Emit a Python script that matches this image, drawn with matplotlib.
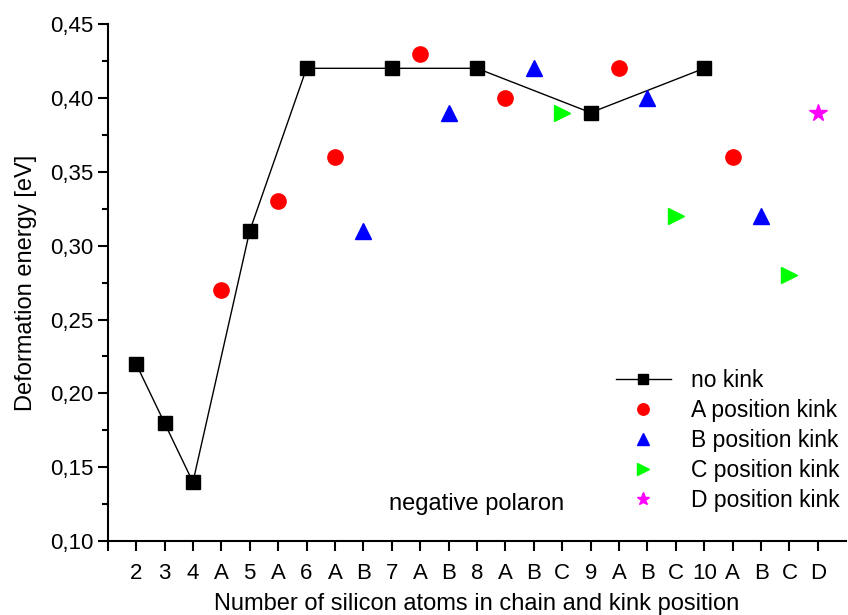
import matplotlib
matplotlib.use("Agg")
import matplotlib.pyplot as plt
from matplotlib.ticker import FuncFormatter, MultipleLocator

plt.rcParams['font.family'] = ['Liberation Sans', 'DejaVu Sans']

# categories along the x axis (position 1..25)
labels = ['2', '3', '4', 'A', '5', 'A', '6', 'A', 'B', '7', 'A', 'B', '8',
          'A', 'B', 'C', '9', 'A', 'B', 'C', '10', 'A', 'B', 'C', 'D']

# no kink
x_none = [1, 2, 3, 5, 7, 10, 13, 17, 21]
y_none = [0.22, 0.18, 0.14, 0.31, 0.42, 0.42, 0.42, 0.39, 0.42]
# A position kink
x_a = [4, 6, 8, 11, 14, 18, 22]
y_a = [0.27, 0.33, 0.36, 0.43, 0.40, 0.42, 0.36]
# B position kink
x_b = [9, 12, 15, 19, 23]
y_b = [0.31, 0.39, 0.42, 0.40, 0.32]
# C position kink
x_c = [16, 20, 24]
y_c = [0.39, 0.32, 0.28]
# D position kink
x_d = [25]
y_d = [0.39]

fig = plt.figure(figsize=(8.48, 6.15), dpi=100)
ax = fig.add_axes([0.127, 0.12, 0.871, 0.841])

ax.plot(x_none, y_none, color='black', lw=1, marker='s', ms=10, label='no kink')
ax.plot(x_a, y_a, ls='none', marker='o', color='#ff0000', ms=11, label='A position kink')
ax.plot(x_b, y_b, ls='none', marker='^', color='#0000ff', ms=11, label='B position kink')
ax.plot(x_c, y_c, ls='none', marker='>', color='#00ff00', ms=11, label='C position kink')
ax.plot(x_d, y_d, ls='none', marker='*', color='#ff00ff', ms=13, label='D position kink')

ax.set_xlim(0, 26)
ax.set_ylim(0.10, 0.45)
ax.set_xticks(range(0, 26))
ax.set_xticklabels([''] + labels)
ax.yaxis.set_major_locator(MultipleLocator(0.05))
ax.yaxis.set_minor_locator(MultipleLocator(0.025))
ax.yaxis.set_major_formatter(FuncFormatter(lambda v, p: ('%.2f' % v).replace('.', ',')))

for s in ['top', 'right']:
    ax.spines[s].set_visible(False)
for s in ['left', 'bottom']:
    ax.spines[s].set_linewidth(1.5)
ax.tick_params(axis='both', which='major', direction='out', length=7, width=1.5, labelsize=16, pad=9)
ax.tick_params(axis='y', which='major', pad=3)
ax.tick_params(axis='y', which='minor', direction='out', length=4, width=1.5)

ax.set_xlabel('Number of silicon atoms in chain and kink position', fontsize=17, labelpad=6)
ax.set_ylabel('Deformation energy [eV]', fontsize=17, labelpad=10)

ax.text(13.0, 0.125, 'negative polaron', fontsize=17, ha='center', va='center')

ax.legend(loc='lower right', bbox_to_anchor=(1.01, 0.03), frameon=False, fontsize=16.5,
          handlelength=2.4, handletextpad=0.9, labelspacing=0.3, borderaxespad=0.2,
          markerscale=0.75)

fig.savefig('out.png', dpi=100)
